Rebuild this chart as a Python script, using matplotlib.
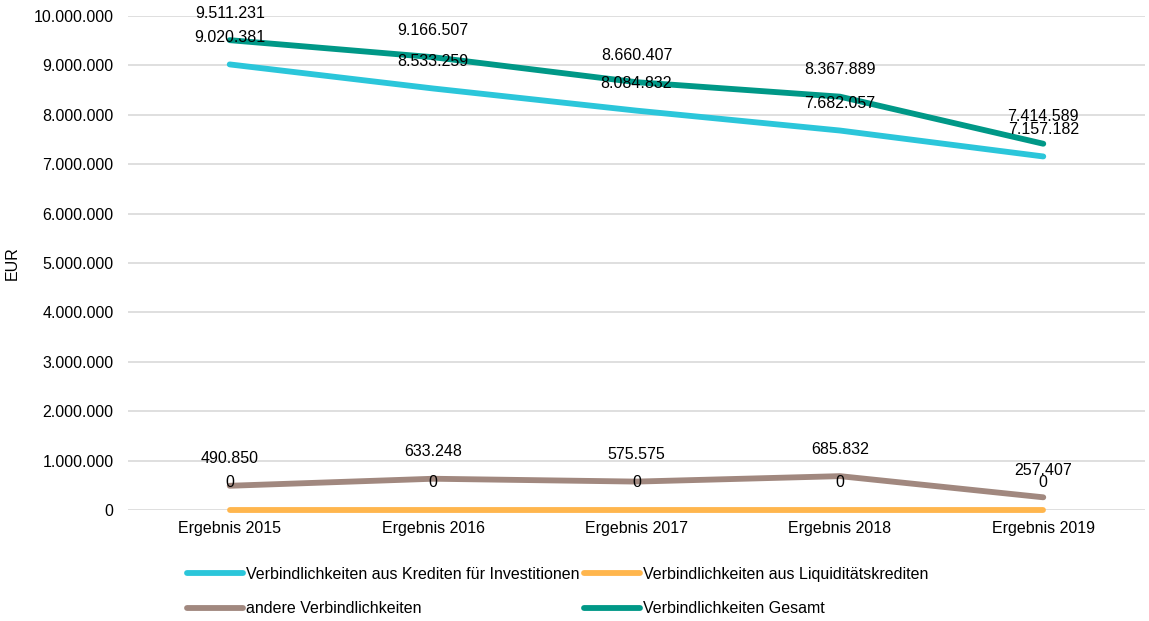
import matplotlib.pyplot as plt
from matplotlib.ticker import FuncFormatter

plt.rcParams['font.family'] = ['Liberation Sans', 'DejaVu Sans']

categories = ["Ergebnis 2015", "Ergebnis 2016", "Ergebnis 2017", "Ergebnis 2018", "Ergebnis 2019"]
investitionen = [9020381, 8533259, 8084832, 7682057, 7157182]
liquiditaet = [0, 0, 0, 0, 0]
andere = [490850, 633248, 575575, 685832, 257407]
gesamt = [9511231, 9166507, 8660407, 8367889, 7414589]

series = [
    ("Verbindlichkeiten aus Krediten für Investitionen", investitionen, "#2BC6DA"),
    ("Verbindlichkeiten aus Liquiditätskrediten", liquiditaet, "#FFB64D"),
    ("andere Verbindlichkeiten", andere, "#A1887F"),
    ("Verbindlichkeiten Gesamt", gesamt, "#009887"),
]


def de_fmt(v):
    return f"{int(round(v)):,}".replace(",", ".")


fig = plt.figure(figsize=(11.49, 6.21), dpi=100)
ax = fig.add_axes([0.1114, 0.1787, 0.8851, 0.7955])

x = list(range(len(categories)))
handles = []
for name, vals, col in series:
    h, = ax.plot(x, vals, color=col, lw=4.2, solid_capstyle="round", label=name,
                 zorder=3, clip_on=False)
    handles.append(h)

for name, vals, col in series:
    for xi, v in zip(x, vals):
        ax.annotate(de_fmt(v), (xi, v), xytext=(0, 19.5), textcoords="offset points",
                    ha="center", va="center", fontsize=11.5, color="#000000", zorder=5)

ax.set_xlim(-0.5, 4.5)
ax.set_ylim(0, 10000000)
ax.set_yticks(range(0, 10000001, 1000000))
ax.yaxis.set_major_formatter(FuncFormatter(lambda v, p: de_fmt(v)))
ax.set_xticks(x)
ax.set_xticklabels(categories)
ax.tick_params(length=0, labelsize=11.5, colors="#000000")
ax.tick_params(axis="x", pad=8)
ax.tick_params(axis="y", pad=10.5)
ax.grid(axis="y", color="#D9D9D9", lw=1.2)
ax.set_axisbelow(True)
for s in ax.spines.values():
    s.set_visible(False)
ax.set_ylabel("EUR", fontsize=11.5, labelpad=10)

order = [0, 2, 1, 3]
fig.legend([handles[i] for i in order], [series[i][0] for i in order],
           loc="upper left", bbox_to_anchor=(0.157, 0.098), ncol=2, frameon=False,
           fontsize=11.5, handlelength=3.5, handletextpad=0.2, columnspacing=0.3,
           labelspacing=1.25, borderaxespad=0)

fig.savefig("out.png", dpi=100)
